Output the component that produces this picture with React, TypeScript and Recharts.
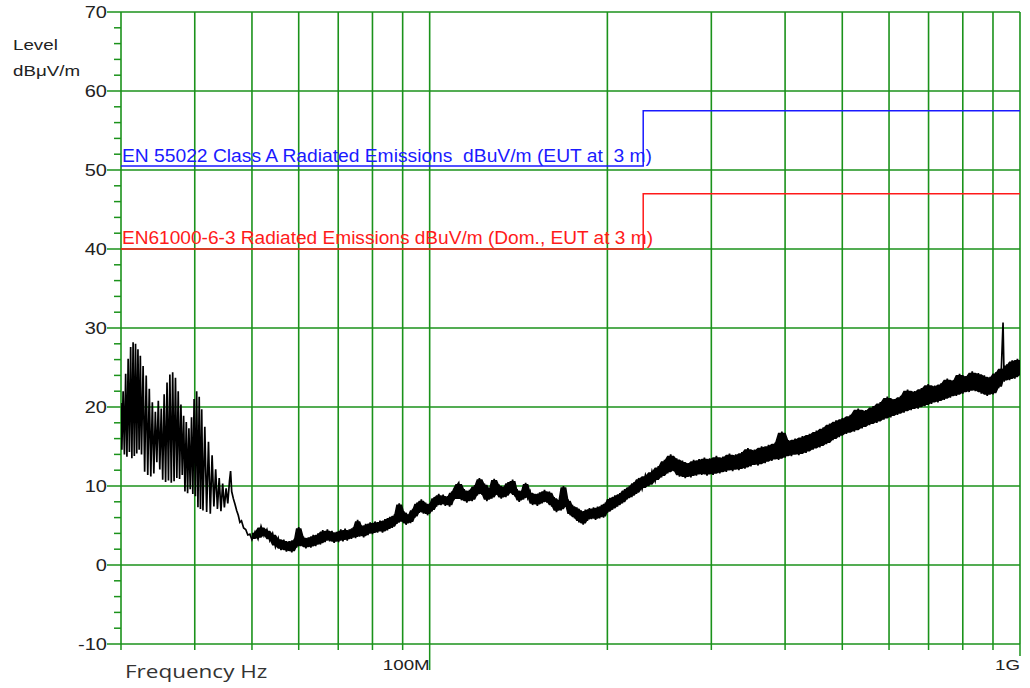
import React from 'react';
import { ComposedChart, Line, Area, XAxis, YAxis, CartesianGrid } from 'recharts';

const GREEN = '#1b921b';
const SANS = '"Liberation Sans", Arial, sans-serif';

// frequency axis in MHz (log), level in dBµV/m
const xTicks = [30, 40, 50, 60, 70, 80, 90, 100, 200, 300, 400, 500, 600, 700, 800, 900, 1000];
const xTickLabels: Record<number, string> = { 100: '100M', 1000: '1G' };
const yTicks = [-10, -8, -6, -4, -2, 0, 2, 4, 6, 8, 10, 12, 14, 16, 18, 20, 22, 24, 26, 28, 30, 32, 34, 36, 38, 40, 42, 44, 46, 48, 50, 52, 54, 56, 58, 60, 62, 64, 66, 68, 70];
const yGrid = [-10, 0, 10, 20, 30, 40, 50, 60, 70];

// limit lines (step at 230 MHz)
const limitFreq = [30, 230, 1000];
const classALevel = [50.5, 57.5, 57.5];
const domesticLevel = [40, 47, 47];

const trace30to50: [number, number][] = [
  [30.0, 20.5], [30.1, 14.6], [30.25, 22.0], [30.4, 14.0], [30.55, 24.2], [30.7, 13.7], [30.85, 26.1], [31.0, 14.3],
  [31.15, 27.6], [31.3, 13.5], [31.45, 28.2], [31.6, 13.8], [31.75, 28.0], [31.9, 14.1], [32.05, 27.3], [32.2, 14.6],
  [32.35, 26.5], [32.5, 14.0], [32.7, 25.2], [32.9, 11.8], [33.1, 24.0], [33.3, 11.4], [33.5, 22.3], [33.7, 11.2],
  [33.9, 20.6], [34.1, 11.6], [34.3, 19.4], [34.5, 13.0], [34.7, 20.8], [34.9, 12.1], [35.1, 19.8], [35.3, 10.8],
  [35.5, 21.6], [35.7, 10.5], [35.9, 23.1], [36.1, 10.7], [36.3, 24.1], [36.5, 10.4], [36.7, 24.4], [36.9, 10.6],
  [37.1, 23.7], [37.3, 11.0], [37.5, 22.0], [37.7, 10.9], [37.9, 20.3], [38.1, 11.4], [38.3, 18.9], [38.5, 9.3],
  [38.7, 18.1], [38.9, 9.1], [39.1, 17.3], [39.3, 9.6], [39.5, 18.7], [39.7, 9.0], [39.9, 21.0], [40.1, 8.7],
  [40.3, 22.0], [40.5, 7.3], [40.7, 21.3], [40.9, 7.1], [41.1, 19.7], [41.3, 6.9], [41.6, 17.5], [41.9, 6.7],
  [42.2, 15.6], [42.5, 6.5], [42.8, 13.9], [43.1, 7.4], [43.4, 12.1], [43.7, 7.1], [44.0, 11.0], [44.3, 6.8],
  [44.6, 10.3], [44.9, 7.3], [45.2, 9.7], [45.5, 7.8], [45.8, 10.6], [46.0, 11.9], [46.2, 9.3], [46.5, 8.4],
  [46.8, 7.7], [47.1, 6.9], [47.4, 6.3], [47.7, 5.4], [48.0, 5.6], [48.4, 4.7], [48.8, 4.5], [49.2, 3.8],
  [49.6, 3.9], [50.0, 3.2],
];

const trace50to110: [number, number][] = [
  [50.6, 4.2], [51.2, 3.3], [51.8, 4.9], [52.4, 3.7], [53.0, 4.5], [53.6, 3.1], [54.2, 4.0], [54.8, 2.3],
  [55.4, 3.4], [56.0, 1.9], [56.6, 3.2], [57.2, 1.7], [57.8, 3.0], [58.4, 1.6], [59.0, 3.3], [59.5, 2.2],
  [60.0, 4.8], [60.5, 2.4], [61.1, 3.6], [61.7, 2.1], [62.3, 3.5], [62.9, 2.2], [63.5, 3.8], [64.1, 2.4],
  [64.7, 4.0], [65.3, 2.6], [65.9, 4.4], [66.5, 2.9], [67.1, 4.5], [67.7, 3.0], [68.3, 4.3], [68.9, 2.8],
  [69.5, 4.2], [70.1, 2.9], [70.7, 4.5], [71.3, 3.0], [71.9, 4.6], [72.5, 3.1], [73.1, 4.5], [73.7, 3.3],
  [74.3, 4.8], [74.9, 3.4], [75.5, 5.7], [76.1, 3.6], [76.7, 5.0], [77.3, 3.5], [77.9, 5.2], [78.6, 3.8],
  [79.3, 5.4], [80.0, 3.9], [80.8, 5.5], [81.6, 4.1], [82.4, 5.6], [83.2, 4.1], [84.0, 5.8], [84.8, 4.4],
  [85.6, 6.1], [86.4, 4.7], [87.2, 6.4], [88.0, 5.2], [88.8, 7.8], [89.6, 5.5], [90.4, 6.8], [91.2, 5.1],
  [92.0, 6.4], [92.8, 5.3], [93.6, 7.1], [94.4, 6.0], [95.2, 7.9], [96.0, 6.6], [96.8, 8.3], [97.6, 6.5],
  [98.4, 7.9], [99.2, 6.3], [100.0, 7.8], [100.9, 6.8], [101.8, 8.6], [102.7, 7.4], [103.6, 9.0], [104.5, 7.6],
  [105.4, 8.9], [106.3, 7.5], [107.2, 8.7], [108.1, 7.4], [109.0, 9.3], [109.9, 8.2],
];

const trace110to226: [number, number][] = [
  [110.8, 9.9], [112.0, 10.4], [113.2, 8.2], [114.4, 9.6], [115.6, 7.9], [116.8, 9.5], [118.0, 8.1], [119.2, 10.1],
  [120.4, 8.8], [121.4, 11.0], [122.6, 8.9], [123.8, 10.3], [125.0, 8.1], [126.2, 9.7], [127.4, 8.4], [128.6, 10.9],
  [129.8, 8.9], [131.0, 10.2], [132.2, 8.4], [133.4, 9.9], [134.6, 8.6], [135.8, 10.5], [137.0, 9.1], [138.2, 10.8],
  [139.4, 8.7], [140.6, 9.6], [141.8, 8.0], [143.0, 9.4], [144.2, 8.3], [145.4, 10.4], [146.6, 8.5], [148.0, 9.3],
  [149.4, 7.6], [150.8, 9.0], [152.2, 7.5], [153.6, 9.2], [155.0, 7.8], [156.5, 9.5], [158.0, 7.9], [159.5, 9.3],
  [161.0, 7.4], [162.5, 8.6], [164.0, 6.7], [165.5, 8.2], [167.0, 6.9], [168.5, 10.0], [170.0, 7.4], [171.5, 8.3],
  [173.0, 6.3], [174.5, 7.6], [176.0, 5.9], [177.5, 7.3], [179.0, 5.4], [180.5, 6.9], [182.0, 5.1], [183.5, 7.0],
  [185.0, 5.6], [186.5, 7.2], [188.0, 5.8], [189.5, 7.3], [191.0, 5.7], [192.5, 7.4], [194.0, 5.9], [195.5, 7.6],
  [197.0, 6.0], [198.5, 7.9], [200.0, 6.6], [202.0, 8.5], [204.0, 7.0], [206.0, 8.8], [208.0, 7.4], [210.0, 9.1],
  [212.0, 7.8], [214.0, 9.6], [216.0, 8.3], [218.0, 10.0], [220.0, 8.6], [222.0, 10.5], [224.0, 9.0], [226.0, 11.0],
];

const trace226to1000: [number, number][] = [
  [229, 9.6], [232, 11.4], [235, 10.0], [238, 11.9], [241, 10.6], [244, 12.5], [247, 11.1], [250, 13.3],
  [253, 11.6], [256, 14.0], [259, 11.9], [262, 13.5], [265, 11.2], [268, 13.2], [271, 11.0], [274, 12.9],
  [277, 11.1], [280, 13.3], [283, 11.3], [286, 13.4], [289, 11.4], [292, 13.6], [295, 11.3], [298, 13.5],
  [302, 11.4], [306, 13.8], [310, 11.6], [314, 13.7], [318, 11.8], [322, 14.1], [326, 11.9], [330, 14.0],
  [334, 12.0], [338, 14.3], [342, 12.2], [346, 14.8], [350, 12.5], [355, 14.6], [360, 12.6], [365, 15.0],
  [370, 12.9], [375, 15.2], [380, 13.2], [385, 15.5], [390, 13.3], [395, 16.9], [400, 13.6], [405, 15.8],
  [410, 13.8], [416, 16.0], [422, 13.9], [428, 16.3], [434, 14.2], [440, 16.6], [446, 14.6], [452, 17.0],
  [458, 14.9], [464, 17.4], [470, 15.3], [476, 17.9], [482, 15.8], [488, 18.3], [494, 16.2], [500, 18.6],
  [508, 16.6], [516, 19.0], [524, 16.9], [532, 19.8], [540, 17.3], [548, 19.6], [556, 17.7], [564, 20.1],
  [572, 18.0], [580, 20.6], [588, 18.4], [596, 21.3], [604, 18.7], [612, 21.0], [620, 19.0], [628, 21.4],
  [636, 19.3], [645, 22.2], [654, 19.6], [663, 22.0], [672, 19.8], [681, 22.4], [690, 20.1], [699, 22.9],
  [708, 20.4], [717, 22.7], [726, 20.6], [735, 23.0], [744, 20.9], [753, 23.6], [762, 21.2], [771, 23.4],
  [780, 21.4], [790, 24.2], [800, 21.7], [810, 23.9], [820, 21.9], [830, 24.5], [840, 22.0], [850, 24.3],
  [860, 21.7], [870, 24.0], [880, 21.4], [890, 23.8], [900, 21.6], [910, 24.4], [920, 22.4], [930, 25.0],
  [936, 30.7], [940, 23.2], [950, 25.4], [960, 23.4], [970, 25.9], [980, 23.6], [990, 26.1], [1000, 24.0],
];

const tracePoints = [...trace30to50, ...trace50to110, ...trace110to226, ...trace226to1000];
const traceData = tracePoints.map(([f, v]) => ({ f, v }));

// above 50 MHz the sweep is so dense it reads as a solid core; fill most of
// the zigzag so its tips still stick out as ragged edges
const bandData = tracePoints
  .map(([f], i) => {
    const near = [tracePoints[i - 1], tracePoints[i], tracePoints[i + 1]]
      .filter((p) => p && p[1] < 28)
      .map((p) => p[1]);
    const lo = Math.min(...near);
    const hi = Math.max(...near);
    const inset = Math.min(0.25, (hi - lo) / 5);
    return { f, band: [lo + inset, hi - inset] };
  })
  .filter((d) => d.f >= 50);

const classAData = limitFreq.map((f, i) => ({ f, v: classALevel[i] }));
const domesticData = limitFreq.map((f, i) => ({ f, v: domesticLevel[i] }));

// the original screenshot is stretched horizontally, so text gets a 1.25 x-scale
function Stretched({ x, y, anchor = 'start', size, color = '#222', family = SANS, children }: any) {
  return (
    <g transform={`translate(${x},${y}) scale(1.25,1)`}>
      <text x={0} y={0} textAnchor={anchor} fontSize={size} fill={color} fontFamily={family} style={{ whiteSpace: 'pre' }}>
        {children}
      </text>
    </g>
  );
}

function FreqTick({ x, y, payload }: any) {
  const label = xTickLabels[payload.value];
  const len = payload.value === 100 ? 26 : label ? 12 : 6;
  return (
    <g>
      <line x1={x} y1={y} x2={x} y2={y + len} stroke={GREEN} strokeWidth={1.5} />
      {label && <Stretched x={x} y={y + 26} anchor="end" size={15}>{label}</Stretched>}
    </g>
  );
}

function LevelTick({ x, y, payload }: any) {
  const major = payload.value % 10 === 0;
  return (
    <g>
      <line x1={x - (major ? 14 : 7)} y1={y} x2={x} y2={y} stroke={GREEN} strokeWidth={1.5} />
      {major && <Stretched x={x - 14} y={y + 6} anchor="end" size={16}>{payload.value}</Stretched>}
    </g>
  );
}

export default function App() {
  return (
    <div style={{ position: 'absolute', left: 0, top: 0, width: 1030, height: 688, background: '#fff' }}>
      <ComposedChart width={1030} height={688} margin={{ top: 12, right: 10, left: 61, bottom: 13 }}>
        <CartesianGrid stroke={GREEN} strokeWidth={1.6} horizontalValues={yGrid} verticalValues={xTicks} />
        <XAxis
          dataKey="f"
          type="number"
          scale="log"
          domain={[30, 1000]}
          ticks={xTicks}
          interval={0}
          height={31}
          axisLine={false}
          tickLine={false}
          tickSize={0}
          tickMargin={0}
          tick={<FreqTick />}
          allowDataOverflow
        />
        <YAxis
          type="number"
          domain={[-10, 70]}
          ticks={yTicks}
          interval={0}
          width={60}
          axisLine={false}
          tickLine={false}
          tickSize={0}
          tickMargin={0}
          tick={<LevelTick />}
          allowDataOverflow
        />
        <Line data={classAData} dataKey="v" type="stepAfter" stroke="#1a1aff" strokeWidth={1.5} dot={false} isAnimationActive={false} />
        <Line data={domesticData} dataKey="v" type="stepAfter" stroke="#ff1a1a" strokeWidth={1.5} dot={false} isAnimationActive={false} />
        <Area data={bandData} dataKey="band" type="linear" fill="#000" fillOpacity={1} stroke="#000" strokeWidth={1.5} dot={false} activeDot={false} isAnimationActive={false} />
        <Line data={traceData} dataKey="v" type="linear" stroke="#000" strokeWidth={1.7} dot={false} isAnimationActive={false} />
      </ComposedChart>
      <svg width={1030} height={688} style={{ position: 'absolute', left: 0, top: 0, pointerEvents: 'none' }}>
        <Stretched x={13} y={50} size={15}>Level</Stretched>
        <Stretched x={13} y={76} size={15}>dBμV/m</Stretched>
        <Stretched x={125} y={678} size={18} family='"Open Sans", sans-serif' color="#333">Frequency Hz</Stretched>
        <text x={122} y={162} fontSize={17.5} fill="#1a1aff" fontFamily={SANS} textLength={530} lengthAdjust="spacingAndGlyphs" style={{ whiteSpace: 'pre' }}>
          EN 55022 Class A Radiated Emissions  dBuV/m (EUT at  3 m)
        </text>
        <text x={122} y={244} fontSize={17.5} fill="#ff1a1a" fontFamily={SANS} textLength={531} lengthAdjust="spacingAndGlyphs" style={{ whiteSpace: 'pre' }}>
          EN61000-6-3 Radiated Emissions dBuV/m (Dom., EUT at 3 m)
        </text>
      </svg>
    </div>
  );
}
